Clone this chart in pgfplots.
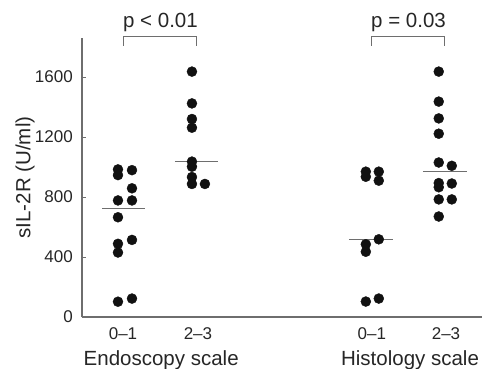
\documentclass[border=0pt]{standalone}
\usepackage{fontspec}
\setmainfont{Liberation Sans}
\usepackage{pgfplots}
\pgfplotsset{compat=1.18}
\usepackage{pgfplotstable}

\pgfplotstableread{
x y
0.933 984
0.933 946
0.933 777
0.933 665
0.933 488
0.933 430
0.933 102
1.12 979
1.12 858
1.12 777
1.12 514
1.12 123
}\endoA
\pgfplotstableread{
x y
1.92 1636
1.92 1424
1.92 1320
1.92 1262
1.92 1036
1.92 1002
1.92 933
1.92 887
2.093 887
}\endoB
\pgfplotstableread{
x y
4.24 969
4.24 935
4.24 485
4.24 435
4.24 103
4.413 969
4.413 909
4.413 518
4.413 123
}\histA
\pgfplotstableread{
x y
5.213 1636
5.213 1436
5.213 1324
5.213 1222
5.213 1030
5.213 893
5.213 865
5.213 784
5.213 670
5.387 1008
5.387 890
5.387 784
}\histB

\definecolor{axgray}{HTML}{6E6E6E}
\definecolor{dotc}{HTML}{111111}

\begin{document}
\begin{tikzpicture}
\begin{axis}[
  at={(0,0)}, anchor=south west,
  scale only axis, width=400pt, height=279pt,
  xmin=0.453, xmax=5.79, ymin=0, ymax=1860,
  axis x line*=bottom, axis y line*=left,
  axis line style={-, axgray, line width=1.3pt},
  clip=false,
  xtick={1,2,4.32,5.31},
  xticklabels={0–1,2–3,0–1,2–3},
  ytick={0,400,800,1200,1600},
  tick align=inside,
  major tick length=4pt,
  major x tick style={draw=none},
  major y tick style={axgray, line width=1pt},
  /pgf/number format/assume math mode=true,
  /pgf/number format/1000 sep={},
  tick label style={font=\fontsize{17}{20}\selectfont, text=black!85},
  xticklabel style={anchor=base, inner sep=0pt, yshift=-22pt},
  yticklabel style={anchor=east, inner sep=0pt, xshift=-9pt},
  ylabel={sIL-2R (U/ml)},
  every axis y label/.style={at={(rel axis cs:0,0.5)}, rotate=90, anchor=center, yshift=57pt, font=\fontsize{20.5}{24}\selectfont, text=black!85},
]
\addplot[only marks, mark=*, mark size=5pt, draw=dotc, fill=dotc] table[x=x,y=y] {\endoA};
\addplot[only marks, mark=*, mark size=5pt, draw=dotc, fill=dotc] table[x=x,y=y] {\endoB};
\addplot[only marks, mark=*, mark size=5pt, draw=dotc, fill=dotc] table[x=x,y=y] {\histA};
\addplot[only marks, mark=*, mark size=5pt, draw=dotc, fill=dotc] table[x=x,y=y] {\histB};
% medians
\addplot[axgray, line width=1pt] coordinates {(0.72,723) (1.293,723)};
\addplot[axgray, line width=1pt] coordinates {(1.693,1040) (2.267,1040)};
\addplot[axgray, line width=1pt] coordinates {(4.013,515) (4.6,515)};
\addplot[axgray, line width=1pt] coordinates {(5.0,973) (5.587,973)};
% brackets
\addplot[axgray, line width=1pt] coordinates {(1.013,1807) (1.013,1867) (1.987,1867) (1.987,1807)};
\addplot[axgray, line width=1pt] coordinates {(4.32,1807) (4.32,1867) (5.293,1867) (5.293,1807)};
\node[anchor=base, inner sep=0pt, font=\fontsize{20.5}{24}\selectfont, text=black!85] at (axis cs:1.5,1931) {p < 0.01};
\node[anchor=base, inner sep=0pt, font=\fontsize{20.5}{24}\selectfont, text=black!85] at (axis cs:4.81,1931) {p = 0.03};
\node[anchor=base, inner sep=0pt, font=\fontsize{20.5}{24}\selectfont, text=black!85, yshift=-48pt] at (axis cs:1.51,0) {Endoscopy scale};
\node[anchor=base, inner sep=0pt, font=\fontsize{20.5}{24}\selectfont, text=black!85, yshift=-48pt] at (axis cs:4.83,0) {Histology scale};
\end{axis}
\pgfresetboundingbox
\path[use as bounding box] (-82pt,-51pt) rectangle (400pt,317pt);
\end{tikzpicture}
\end{document}
